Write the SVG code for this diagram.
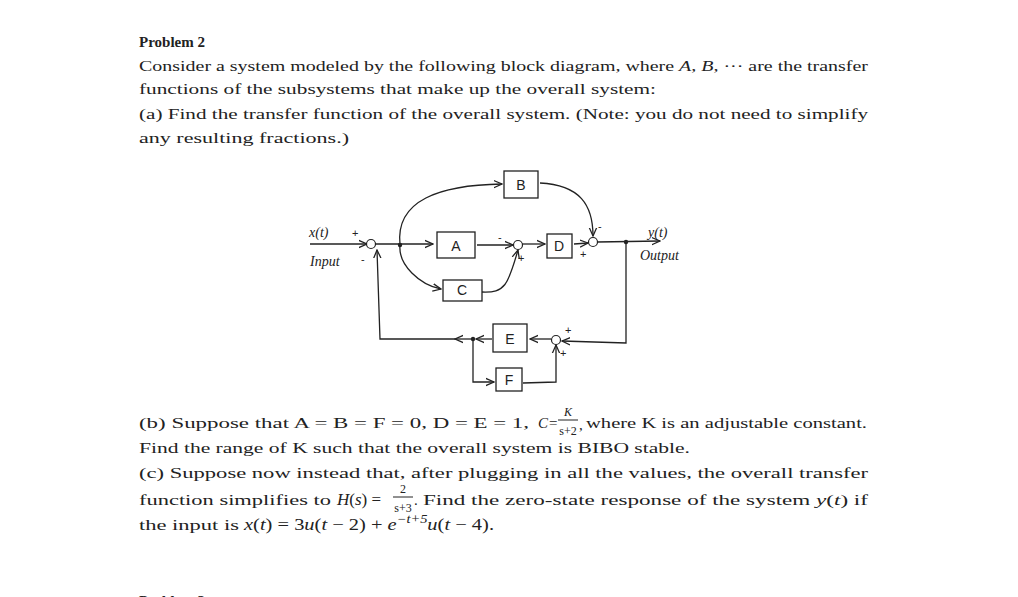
<svg xmlns="http://www.w3.org/2000/svg" width="1018" height="597" viewBox="0 0 1018 597">
<style>
.t{font-family:"Liberation Serif",serif;font-size:15px;fill:#222}
.i{font-style:italic}
.b{font-weight:bold}
.ln{fill:none;stroke:#222;stroke-width:1.3}
.bx{fill:#fff;stroke:#222;stroke-width:1.3}
.s{fill:#fff;stroke:#222;stroke-width:1.2}
.lb{font-family:"Liberation Sans",sans-serif;font-size:14px;fill:#222;text-anchor:middle}
.h{font-family:"Liberation Serif",serif;font-style:italic;font-size:14px;fill:#222}
.sg{font-family:"Liberation Sans",sans-serif;font-size:11px;fill:#222}
</style>
<defs><marker id="a" viewBox="0 0 10 10" refX="9" refY="5" markerWidth="7" markerHeight="7" orient="auto"><path d="M0,1 L9,5 L0,9" fill="none" stroke="#222" stroke-width="1.4"/></marker></defs>
<rect width="1018" height="597" fill="#fff"/>
<text class="t b" x="139" y="47">Problem 2</text>
<text class="t" x="139" y="71" textLength="729" lengthAdjust="spacingAndGlyphs">Consider a system modeled by the following block diagram, where <tspan class="i">A</tspan>, <tspan class="i">B</tspan>, ··· are the transfer</text>
<text class="t" x="139" y="94" textLength="517" lengthAdjust="spacingAndGlyphs">functions of the subsystems that make up the overall system:</text>
<text class="t" x="139" y="119" textLength="729" lengthAdjust="spacingAndGlyphs">(a) Find the transfer function of the overall system. (Note: you do not need to simplify</text>
<text class="t" x="139" y="143" textLength="210" lengthAdjust="spacingAndGlyphs">any resulting fractions.)</text>
<text class="t" x="139" y="428" textLength="390" lengthAdjust="spacingAndGlyphs">(b) Suppose that A = B = F = 0, D = E = 1,</text>
<text class="t i" x="538" y="428">C</text><text class="t" x="549" y="428">=</text>
<text class="t i" x="568" y="416" style="font-size:12px" text-anchor="middle">K</text>
<line x1="558" y1="420" x2="578" y2="420" stroke="#222" stroke-width="1"/>
<text class="t" x="568" y="435" style="font-size:12px" text-anchor="middle">s+2</text>
<text class="t" x="579" y="430">,</text>
<text class="t" x="586" y="428" textLength="281" lengthAdjust="spacingAndGlyphs">where K is an adjustable constant.</text>
<text class="t" x="139" y="453" textLength="551" lengthAdjust="spacingAndGlyphs">Find the range of K such that the overall system is BIBO stable.</text>
<text class="t" x="139" y="478" textLength="729" lengthAdjust="spacingAndGlyphs">(c) Suppose now instead that, after plugging in all the values, the overall transfer</text>
<text class="t" x="139" y="505" textLength="192" lengthAdjust="spacingAndGlyphs">function simplifies to</text>
<text class="t" x="337" y="505" style="font-size:17px"><tspan class="i">H</tspan>(<tspan class="i">s</tspan>) =</text>
<text class="t" x="403" y="493" style="font-size:12px" text-anchor="middle">2</text>
<line x1="393" y1="497" x2="413" y2="497" stroke="#222" stroke-width="1"/>
<text class="t" x="403" y="512" style="font-size:12px" text-anchor="middle">s+3</text>
<text class="t" x="414" y="505">.</text>
<text class="t" x="423" y="505" textLength="445" lengthAdjust="spacingAndGlyphs">Find the zero-state response of the system <tspan class="i">y</tspan>(<tspan class="i">t</tspan>) if</text>
<text class="t" x="139" y="530" textLength="100" lengthAdjust="spacingAndGlyphs">the input is</text>
<text class="t" x="244" y="530" style="font-size:17px" textLength="250" lengthAdjust="spacingAndGlyphs"><tspan class="i">x</tspan>(<tspan class="i">t</tspan>) = 3<tspan class="i">u</tspan>(<tspan class="i">t</tspan> − 2) + <tspan class="i">e</tspan><tspan class="i" style="font-size:12px" dy="-7">−t+5</tspan><tspan class="i" dy="7">u</tspan>(<tspan class="i">t</tspan> − 4).</text>
<text class="t b" x="139" y="606">Problem 3</text>

<g id="connectors">
<path class="ln" d="M310,244 L367,244" marker-end="url(#a)"/>
<path class="ln" d="M375,244 L433,244" marker-end="url(#a)"/>
<path class="ln" d="M400,245 C395,200 440,185 502,184" marker-end="url(#a)"/>
<path class="ln" d="M400,245 C398,265 420,285 441,289" marker-end="url(#a)"/>
<path class="ln" d="M477,245 L513,245" marker-end="url(#a)"/>
<path class="ln" d="M482,292 C505,293 508,285 518,250" marker-end="url(#a)"/>
<path class="ln" d="M522,244 L545,244" marker-end="url(#a)"/>
<path class="ln" d="M574,244 L588,243" marker-end="url(#a)"/>
<path class="ln" d="M540,183 C580,185 593,205 593,236" marker-end="url(#a)"/>
<path class="ln" d="M597,242 L660,241" marker-end="url(#a)"/>
<path class="ln" d="M626,242 L626,343 L562,341" marker-end="url(#a)"/>
<path class="ln" d="M551,339 L530,339" marker-end="url(#a)"/>
<path class="ln" d="M492,339 L476,339" marker-end="url(#a)"/>
<path class="ln" d="M473,339 L455,339" marker-end="url(#a)"/>
<path class="ln" d="M455,339 L380,339 L377,250" marker-end="url(#a)"/>
<path class="ln" d="M473,339 L473,382 L494,382" marker-end="url(#a)"/>
<path class="ln" d="M523,383 L556,382 L556,345" marker-end="url(#a)"/>
<circle cx="400" cy="245" r="2.2" fill="#222"/>
<circle cx="473" cy="339" r="2.2" fill="#222"/>
<circle cx="626" cy="242" r="2.2" fill="#222"/>
</g>
<g id="sum1"><circle class="s" cx="371" cy="244" r="4.5"/></g>
<g id="sum2"><circle class="s" cx="518" cy="245" r="4.5"/></g>
<g id="sum3"><circle class="s" cx="593" cy="242" r="4.5"/></g>
<g id="sum4"><circle class="s" cx="556" cy="340" r="4.5"/></g>
<g id="A"><rect class="bx" x="437" y="232" width="38" height="26"/><text class="lb" x="456" y="251">A</text></g>
<g id="B"><rect class="bx" x="504" y="171" width="34" height="27"/><text class="lb" x="521" y="190">B</text></g>
<g id="C"><rect class="bx" x="443" y="280" width="39" height="21"/><text class="lb" x="462" y="295">C</text></g>
<g id="D"><rect class="bx" x="547" y="234" width="25" height="24"/><text class="lb" x="559" y="251">D</text></g>
<g id="E"><rect class="bx" x="493" y="324" width="34" height="28"/><text class="lb" x="510" y="344">E</text></g>
<g id="F"><rect class="bx" x="496" y="368" width="26" height="23"/><text class="lb" x="509" y="385">F</text></g>
<g id="labels">
<text class="h" x="309" y="237">x(t)</text>
<text class="h" x="310" y="266">Input</text>
<text class="h" x="648" y="237">y(t)</text>
<text class="h" x="640" y="260">Output</text>
<text class="sg" x="352" y="237">+</text>
<text class="sg" x="361" y="263">-</text>
<text class="sg" x="498" y="241">-</text>
<text class="sg" x="518" y="262">+</text>
<text class="sg" x="598" y="230">-</text>
<text class="sg" x="580" y="258">+</text>
<text class="sg" x="565" y="334">+</text>
<text class="sg" x="560" y="357">+</text>
</g>
</svg>
